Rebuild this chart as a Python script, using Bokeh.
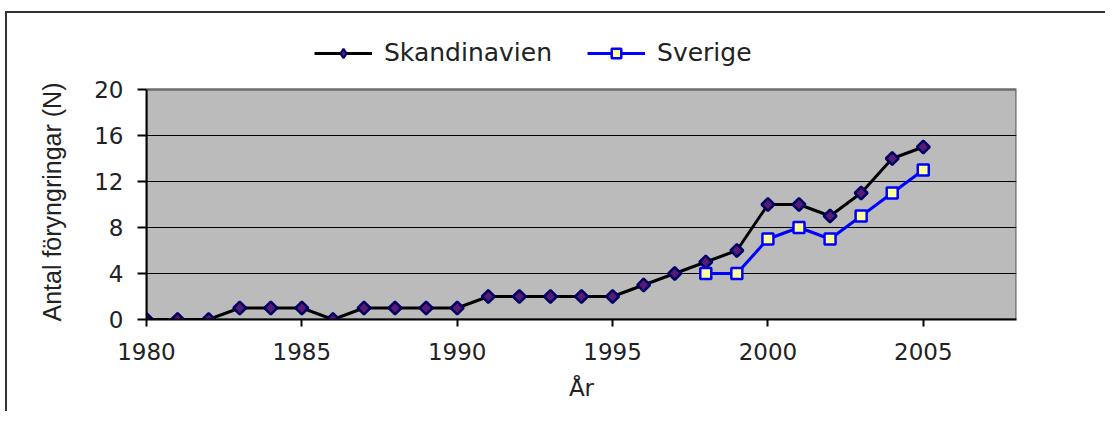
from bokeh.plotting import figure
from bokeh.models import FixedTicker, Range1d, Legend, LegendItem, Title
from bokeh.embed import file_html
from bokeh.resources import INLINE
import math

years_sk = [1980, 1981, 1982, 1983, 1984, 1985, 1986, 1987, 1988, 1989, 1990,
            1991, 1992, 1993, 1994, 1995, 1996, 1997, 1998, 1999, 2000, 2001,
            2002, 2003, 2004, 2005]
skandinavien = [0, 0, 0, 1, 1, 1, 0, 1, 1, 1, 1, 2, 2, 2, 2, 2, 3, 4, 5, 6,
                10, 10, 9, 11, 14, 15]
years_sv = [1998, 1999, 2000, 2001, 2002, 2003, 2004, 2005]
sverige = [4, 4, 7, 8, 7, 9, 11, 13]
x_ticks = [1980, 1985, 1990, 1995, 2000, 2005]
y_ticks = [0, 4, 8, 12, 16, 20]
x_min, x_max = 1980, 2008
y_min, y_max = 0, 20

FONT = "DejaVu Sans"

W, H = 1100, 400
B_LEFT, B_RIGHT, B_TOP, B_BOTTOM = 139, 91, 13, 94
AXIS_PX = 230  # pixel height of the 0..20 axis
frame_h = H - B_TOP - B_BOTTOM
y_top = y_max * frame_h / AXIS_PX  # extra room above the plot area for the legend

p = figure(width=W, height=H, output_backend="svg", toolbar_location=None,
           x_range=Range1d(x_min, x_max), y_range=Range1d(y_min, y_top),
           min_border_left=B_LEFT, min_border_right=B_RIGHT, min_border_top=B_TOP,
           min_border_bottom=B_BOTTOM,
           styles={"border-left": "2px solid #333", "border-top": "2px solid #333",
                   "margin-top": "11px", "margin-left": "5px"})

p.background_fill_color = "white"
p.border_fill_color = "white"
p.outline_line_color = None

# gray plot area with dark-gray outline
p.quad(left=[x_min], right=[x_max], bottom=[y_min], top=[y_max],
       fill_color="#BBBBBB", line_color="#6e6e6e", line_width=2.5, level="image")

p.xgrid.visible = False
p.ygrid.ticker = FixedTicker(ticks=y_ticks[1:-1])
p.ygrid.grid_line_color = "black"
p.ygrid.grid_line_width = 1

p.xaxis.ticker = FixedTicker(ticks=x_ticks)
p.yaxis.ticker = FixedTicker(ticks=y_ticks)
p.yaxis.bounds = (y_min, y_max)
for ax in (p.xaxis[0], p.yaxis[0]):
    ax.axis_line_color = "black"
    ax.axis_line_width = 2
    ax.major_tick_line_color = "black"
    ax.major_tick_line_width = 2
    ax.major_tick_in = 0
    ax.minor_tick_line_color = None
    ax.major_label_text_font = FONT
    ax.major_label_text_font_size = "23px"
    ax.major_label_text_color = "#222222"
    ax.axis_label_text_font_style = "normal"
    ax.axis_label_text_color = "#222222"

p.xaxis.major_tick_out = 7
p.yaxis.major_tick_out = 9
p.xaxis.major_label_standoff = 16
p.yaxis.major_label_standoff = 14
p.xaxis.axis_label = "År"
p.xaxis.axis_label_text_font = FONT
p.xaxis.axis_label_text_font_size = "23px"
p.xaxis.axis_label_standoff = 12

ylabel = Title(text="Antal föryngringar (N)", align="left", offset=-2,
               standoff=52, text_font="Liberation Sans", text_font_size="25px",
               text_font_style="normal", text_color="#222222")
p.add_layout(ylabel, "left")

l1 = p.line(years_sk, skandinavien, line_color="black", line_width=3)
m1 = p.scatter(years_sk, skandinavien, marker="square", size=9, angle=math.pi / 4,
               fill_color="#5a1a70", line_color="#000066", line_width=2.5)
l2 = p.line(years_sv, sverige, line_color="#0000FF", line_width=3)
m2 = p.scatter(years_sv, sverige, marker="square", size=11,
               fill_color="#FFFF99", line_color="#0000FF", line_width=2.5)
# diamond key for the legend (drawn on the first point, same as the plot marker)
key1 = p.scatter(years_sk[:1], skandinavien[:1], marker="diamond", size=13,
                 fill_color="#5a1a70", line_color="#000066", line_width=2)

legend = Legend(items=[LegendItem(label="Skandinavien", renderers=[l1, key1]),
                       LegendItem(label="Sverige", renderers=[l2, m2])],
                orientation="horizontal", location=(168, 252),
                glyph_width=58, glyph_height=24, label_standoff=12, spacing=35,
                padding=0, margin=0, border_line_color=None,
                background_fill_alpha=0,
                label_text_font=FONT, label_text_font_size="25px",
                label_text_color="#222222")
p.add_layout(legend, "center")

open("out.html", "w").write(file_html(p, INLINE))
